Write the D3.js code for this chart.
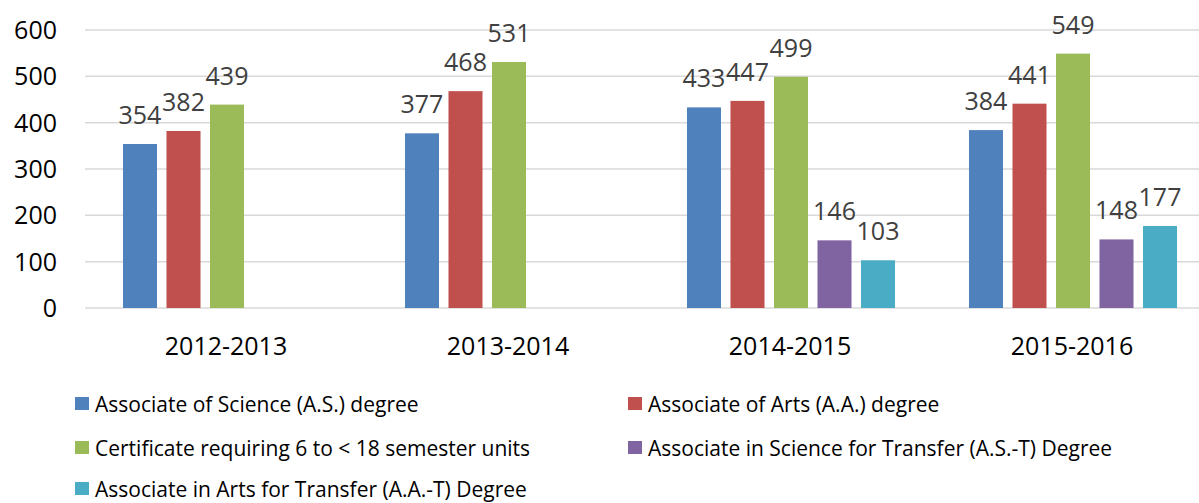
<!DOCTYPE html>
<html>
<head>
<meta charset="utf-8">
<script src="https://cdn.jsdelivr.net/npm/d3@7/dist/d3.min.js"></script>
<style>
  body { margin: 0; background: #fff; }
  svg { display: block; font-family: "Open Sans", sans-serif; }
</style>
</head>
<body>
<svg width="1199" height="503"></svg>
<script>
// years on the x axis
const years = ['2012-2013', '2013-2014', '2014-2015', '2015-2016'];
// series names (legend order)
const seriesNames = [
  'Associate of Science (A.S.) degree',
  'Associate of Arts (A.A.) degree',
  'Certificate requiring 6 to < 18 semester units',
  'Associate in Science for Transfer (A.S.-T) Degree',
  'Associate in Arts for Transfer (A.A.-T) Degree'
];
const seriesColors = ['#4f81bd', '#c0504d', '#9bbb59', '#8064a2', '#4bacc6'];
// values per series, one per year (null = no bar)
const asDegree  = [354, 377, 433, 384];
const aaDegree  = [382, 468, 447, 441];
const cert6to18 = [439, 531, 499, 549];
const astDegree = [null, null, 146, 148];
const aatDegree = [null, null, 103, 177];
const yTicks = [0, 100, 200, 300, 400, 500, 600];

const seriesValues = [asDegree, aaDegree, cert6to18, astDegree, aatDegree];

const svg = d3.select('svg');

const x0 = d3.scaleBand().domain(years).range([86, 1214]).padding(0);
const x1 = d3.scaleBand().domain(d3.range(seriesNames.length))
  .range([0, x0.bandwidth()]).paddingInner(0.218).paddingOuter(0.85);
const y = d3.scaleLinear().domain([0, 600]).range([308, 30]);

// gridlines
svg.append('g')
  .selectAll('line')
  .data(yTicks)
  .join('line')
    .attr('x1', 85).attr('x2', 1199)
    .attr('y1', d => y(d)).attr('y2', d => y(d))
    .attr('stroke', '#d9d9d9')
    .attr('stroke-width', 1.5);

// y tick labels
svg.append('g')
  .selectAll('text')
  .data(yTicks)
  .join('text')
    .attr('x', 57)
    .attr('y', d => y(d))
    .attr('dy', '0.36em')
    .attr('text-anchor', 'end')
    .attr('font-size', 25)
    .attr('fill', '#000')
    .text(d => d);

// flat table of bars
const cells = [];
years.forEach((yr, i) => {
  seriesValues.forEach((vals, s) => {
    if (vals[i] != null) cells.push({year: yr, s: s, v: vals[i]});
  });
});

const barG = svg.append('g');
barG.selectAll('rect')
  .data(cells)
  .join('rect')
    .attr('x', d => x0(d.year) + x1(d.s))
    .attr('y', d => y(d.v))
    .attr('width', x1.bandwidth())
    .attr('height', d => y(0) - y(d.v))
    .attr('fill', d => seriesColors[d.s]);

// value labels
barG.selectAll('text')
  .data(cells)
  .join('text')
    .attr('x', d => x0(d.year) + x1(d.s) + x1.bandwidth() / 2)
    .attr('y', d => y(d.v) - 20)
    .attr('text-anchor', 'middle')
    .attr('font-size', 25)
    .attr('fill', '#404040')
    .text(d => d.v);

// category labels
svg.append('g')
  .selectAll('text')
  .data(years)
  .join('text')
    .attr('x', d => x0(d) + x0.bandwidth() / 2 - 1)
    .attr('y', 355)
    .attr('text-anchor', 'middle')
    .attr('font-size', 25)
    .attr('fill', '#000')
    .text(d => d);

// legend, two columns
const legCols = [75, 628];
const legRows = [397, 441, 482];
const leg = svg.append('g')
  .selectAll('g')
  .data(seriesNames)
  .join('g')
    .attr('transform', (d, i) => 'translate(' + legCols[i % 2] + ',' + legRows[Math.floor(i / 2)] + ')');
leg.append('rect')
  .attr('width', 14).attr('height', 13)
  .attr('fill', (d, i) => seriesColors[i]);
leg.append('text')
  .attr('x', 20)
  .attr('y', 7)
  .attr('dy', '0.36em')
  .attr('font-size', 21)
  .attr('fill', '#000')
  .text(d => d);
</script>
</body>
</html>
